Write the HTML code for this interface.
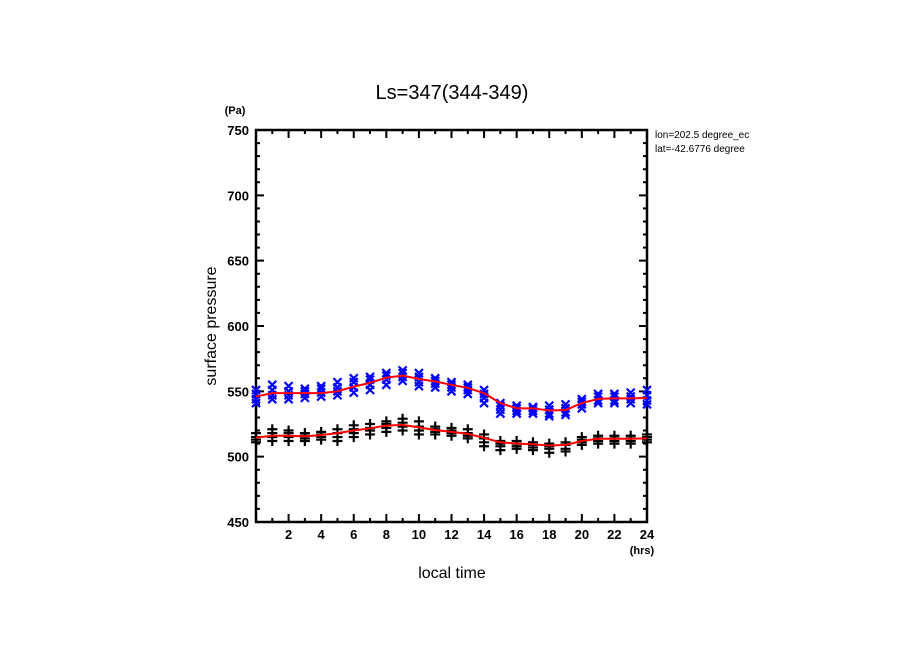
<!DOCTYPE html>
<html><head><meta charset="utf-8"><style>
html,body{margin:0;padding:0;background:#fff;}
svg{display:block;font-family:"Liberation Sans",sans-serif;}
</style></head><body>
<svg id="chart" width="904" height="654" viewBox="0 0 904 654" xmlns="http://www.w3.org/2000/svg">
<rect width="904" height="654" fill="#fff"/>
<text x="452" y="99" font-size="20" text-anchor="middle">Ls=347(344-349)</text>
<text x="235" y="114" font-size="11" font-weight="bold" text-anchor="middle">(Pa)</text>
<text x="642" y="554" font-size="11" font-weight="bold" text-anchor="middle">(hrs)</text>
<text x="452" y="578" font-size="16" text-anchor="middle">local time</text>
<text x="0" y="0" font-size="16" text-anchor="middle" transform="translate(216,326) rotate(-90)">surface pressure</text>
<text x="655" y="138" font-size="10">lon=202.5 degree_ec</text>
<text x="655" y="152" font-size="10">lat=-42.6776 degree</text>
<g id="plot"></g>
</svg>
<script>
const hours = [0,1,2,3,4,5,6,7,8,9,10,11,12,13,14,15,16,17,18,19,20,21,22,23,24];
const blueMean = [546,548.6,548.6,548.6,548.6,550,553.6,556.5,560.5,562,559.5,557.5,555,552.6,548.6,541,537,537,535.3,535.7,541,544.2,544.6,544.6,545];
const blackMean = [514.6,516,516,515.5,516.5,518,520,521.7,523.8,524.3,522.4,520.4,519,517.5,514.4,511,510,509.5,508.5,509,512,513.7,513.7,513.7,514];
const blueSamples = [
[541,544,548,551],[544,547,551,555],[544,547,550,554],[545,548,550,552],[546,549,552,554],
[547,550,553,557],[549,553,557,560],[551,555,559,561],[555,559,562,564],[558,561,564,566],
[554,557,561,564],[553,556,558,560],[550,553,555,557],[548,551,553,555],[541,545,548,551],
[533,536,539,541],[533,535,537,539],[533,535,537,538],[531,533,536,539],[532,534,537,540],
[537,540,542,544],[541,543,546,548],[541,543,546,548],[541,544,546,549],[540,543,547,551]];
const blackSamples = [
[511,513,515,518],[512,515,518,521],[512,515,518,520],[512,514,516,518],[513,515,517,519],
[512,515,518,521],[515,518,521,524],[517,520,522,525],[519,522,525,527],[520,523,526,529],
[517,520,523,527],[517,519,521,523],[516,518,520,522],[514,516,518,521],[508,511,514,517],
[505,508,510,512],[506,508,510,512],[505,507,509,511],[503,506,508,510],[504,506,509,511],
[509,511,513,515],[510,512,514,516],[510,512,514,516],[510,512,514,516],[511,513,515,517]];
const yTicks = [450,500,550,600,650,700,750];
const xTicks = [2,4,6,8,10,12,14,16,18,20,22,24];

const L=256,R=647,T=130,B=522;
const xs = h => L + (h/24)*(R-L);
const ys = v => B - (v-450)/300*(B-T);
const NS="http://www.w3.org/2000/svg";
const g=document.getElementById('plot');
function mk(tag,attrs,parent){const e=document.createElementNS(NS,tag);for(const k in attrs)e.setAttribute(k,attrs[k]);(parent||g).appendChild(e);return e;}

const frame=mk('rect',{x:L,y:T,width:R-L,height:B-T,fill:'none',stroke:'#000','stroke-width':2.5});


let td='';
for(let h=1;h<24;h++){const x=xs(h);const len=(h%2===0)?8:4;td+=`M${x},${B}v${-len}M${x},${T}v${len}`;}
for(let v=460;v<750;v+=10){const y=ys(v);const len=(v%50===0)?8:4;td+=`M${L},${y}h${len}M${R},${y}h${-len}`;}
const ticks=mk('path',{d:td,stroke:'#000','stroke-width':2,fill:'none'});


yTicks.forEach(v=>{const t=mk('text',{x:L-7,y:ys(v)+5,'font-size':13,'font-weight':'bold','text-anchor':'end'});t.textContent=v;

});
xTicks.forEach(h=>{const t=mk('text',{x:xs(h),y:B+17,'font-size':13,'font-weight':'bold','text-anchor':'middle'});t.textContent=h;

});

let bd='',kd='';
hours.forEach((h,i)=>{const x=xs(h);
 blueSamples[i].forEach(v=>{const y=ys(v);bd+=`M${x-4},${y-4}l8,8M${x-4},${y+4}l8,-8`;});
 blackSamples[i].forEach(v=>{const y=ys(v);kd+=`M${x-5},${y}h10M${x},${y-5}v10`;});
});
const bs=mk('path',{d:bd,stroke:'#0000ff','stroke-width':2.2,fill:'none'});


const ks=mk('path',{d:kd,stroke:'#000','stroke-width':2.2,fill:'none'});


function line(arr,name){const d=arr.map((v,i)=>(i?'L':'M')+xs(hours[i])+','+ys(v)).join('');
 const p=mk('path',{d:d,stroke:'#ff0000','stroke-width':2,fill:'none','stroke-linejoin':'round'});
 
 }
line(blueMean,'blue-mean-line');
line(blackMean,'black-mean-line');
</script>
</body></html>
